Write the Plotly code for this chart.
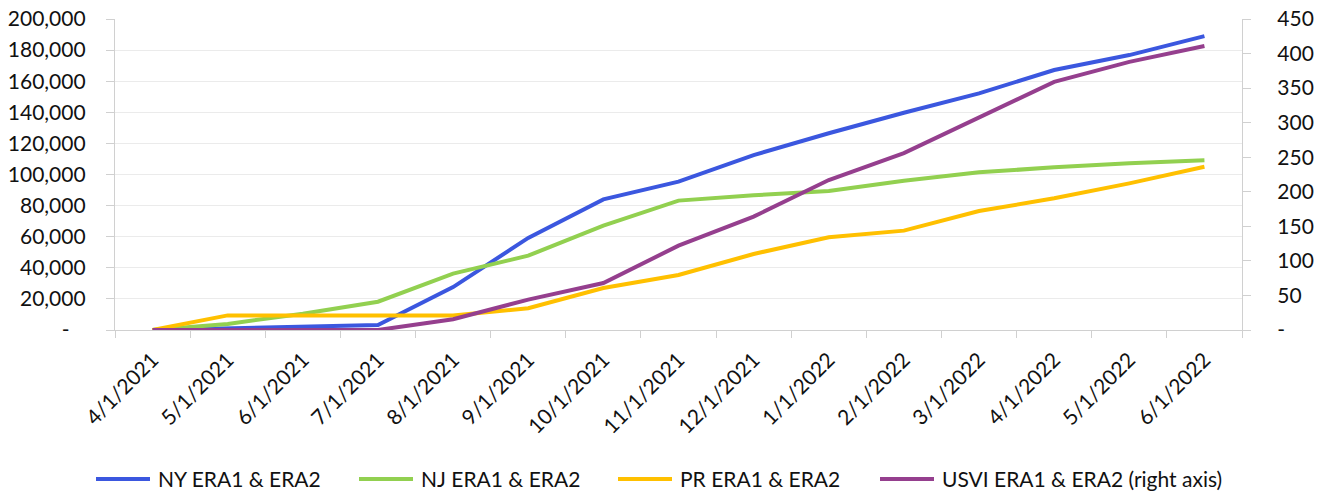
import plotly.graph_objects as go

# Monthly reporting dates (category axis)
months = ["4/1/2021", "5/1/2021", "6/1/2021", "7/1/2021", "8/1/2021",
          "9/1/2021", "10/1/2021", "11/1/2021", "12/1/2021", "1/1/2022",
          "2/1/2022", "3/1/2022", "4/1/2022", "5/1/2022", "6/1/2022"]

# Cumulative ERA1 & ERA2 counts by jurisdiction (left axis)
ny = [0, 1000, 2000, 3200, 27600, 59200, 84000, 95400, 112500, 126500,
      139700, 152200, 167200, 176800, 189000]
nj = [0, 3900, 10500, 18200, 36300, 47800, 67100, 83200, 86600, 89400,
      96000, 101400, 104600, 107200, 109100]
pr = [0, 9400, 9400, 9400, 9400, 14000, 27000, 35400, 48900, 59600,
      63900, 76500, 84700, 94300, 105000]

# USVI on its own scale (right axis)
usvi = [0, 0, 0, 0, 15.5, 44, 68, 122, 164, 217, 256, 308, 359, 388, 411]

series_names = ["NY ERA1 & ERA2", "NJ ERA1 & ERA2", "PR ERA1 & ERA2",
                "USVI ERA1 & ERA2 (right axis)"]

# Axis ticks
left_ticks = list(range(0, 200001, 20000))
left_labels = ["-\u00a0\u00a0\u00a0"] + [f"{v:,}" for v in left_ticks[1:]]
right_ticks = list(range(0, 451, 50))
right_labels = ["-"] + [str(v) for v in right_ticks[1:]]

FONT = "Lato"
TEXT = "#111111"
AXIS = "#D0D0D0"
GRID = "#EBEBEB"
COLORS = ["#3B57DF", "#92D050", "#FFC000", "#953F8E"]

W, H = 1318, 493
ML, MR, MT, MB = 115, 76, 19, 163
PW, PH = W - ML - MR, H - MT - MB

fig = go.Figure()
for name, vals, color, axis in zip(series_names, [ny, nj, pr, usvi],
                                   COLORS, ["y", "y", "y", "y2"]):
    fig.add_trace(go.Scatter(
        x=months, y=vals, name=name, mode="lines", yaxis=axis,
        line=dict(color=color, width=4), cliponaxis=False,
        showlegend=False,
    ))


def px_x(px):
    return (px - ML) / PW


def px_y(py):
    return (H - MB - py) / PH


# Legend row below the chart: a coloured key line followed by its label
legend_y = 479
key_starts = [96, 359, 618, 880]
for name, color, x0 in zip(series_names, COLORS, key_starts):
    fig.add_shape(type="line", xref="paper", yref="paper",
                  x0=px_x(x0), x1=px_x(x0 + 54),
                  y0=px_y(legend_y), y1=px_y(legend_y),
                  line=dict(color=color, width=4))
    fig.add_annotation(xref="paper", yref="paper",
                       x=px_x(x0 + 60), y=px_y(legend_y),
                       xanchor="left", yanchor="middle", showarrow=False,
                       text=name, font=dict(family=FONT, size=21, color=TEXT))

fig.update_layout(
    width=W, height=H,
    margin=dict(l=ML, r=MR, t=MT, b=MB, autoexpand=False),
    paper_bgcolor="white", plot_bgcolor="white",
    font=dict(family=FONT, size=21, color=TEXT),
    showlegend=False,
    xaxis=dict(
        type="category", range=[-0.5, len(months) - 0.5],
        tickangle=-45, tickson="boundaries", automargin=False,
        ticks="outside", ticklen=7, tickcolor=AXIS,
        showline=True, linecolor=AXIS, linewidth=1.3,
        showgrid=False, zeroline=False, ticklabelstandoff=8,
        tickfont=dict(family=FONT, size=21, color=TEXT),
    ),
    yaxis=dict(
        range=[0, 200000], tickvals=left_ticks, ticktext=left_labels,
        ticks="outside", ticklen=8, tickcolor=AXIS, automargin=False,
        showline=True, linecolor=AXIS, linewidth=1.3,
        showgrid=True, gridcolor=GRID, gridwidth=1.3, zeroline=False,
        ticklabelstandoff=16,
        tickfont=dict(family=FONT, size=21, color=TEXT),
    ),
    yaxis2=dict(
        range=[0, 450], tickvals=right_ticks, ticktext=right_labels,
        overlaying="y", side="right", automargin=False,
        ticks="outside", ticklen=8, tickcolor=AXIS,
        showline=True, linecolor=AXIS, linewidth=1.3,
        showgrid=False, zeroline=False,
        ticklabelstandoff=22,
        tickfont=dict(family=FONT, size=21, color=TEXT),
    ),
)

fig.write_html("out.html")
